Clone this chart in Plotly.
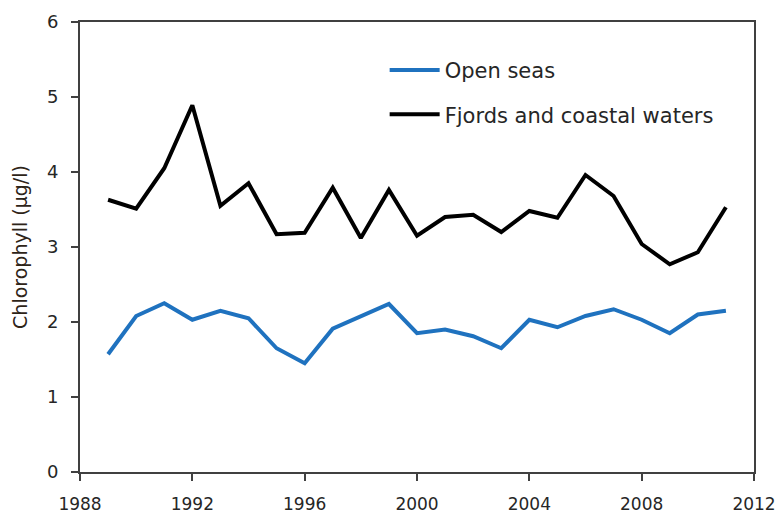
import plotly.graph_objects as go

years = list(range(1989, 2012))

open_seas = [1.57, 2.08, 2.25, 2.03, 2.15, 2.05, 1.65, 1.45, 1.91, 2.08, 2.24, 1.85,
             1.90, 1.81, 1.65, 2.03, 1.93, 2.08, 2.17, 2.03, 1.85, 2.10, 2.15]

fjords = [3.63, 3.51, 4.05, 4.89, 3.55, 3.85, 3.17, 3.19, 3.79, 3.12, 3.76, 3.15,
          3.40, 3.43, 3.20, 3.48, 3.39, 3.96, 3.68, 3.04, 2.77, 2.93, 3.53]

x_ticks = [1988, 1992, 1996, 2000, 2004, 2008, 2012]
y_ticks = [0, 1, 2, 3, 4, 5, 6]

fig = go.Figure()
fig.add_trace(go.Scatter(x=years, y=open_seas, mode="lines", name="Open seas",
                         legendgroup="a",
                         line=dict(color="#1f72bf", width=4)))
fig.add_trace(go.Scatter(x=years, y=fjords, mode="lines", name="Fjords and coastal waters",
                         legendgroup="b",
                         line=dict(color="#000000", width=4)))

axis_common = dict(showline=True, linecolor="#404040", linewidth=2, mirror=True,
                   ticks="outside", ticklen=7, tickcolor="#404040", tickwidth=2,
                   showgrid=False, zeroline=False, automargin=False,
                   ticklabelstandoff=9)

fig.update_layout(
    width=778, height=515,
    margin=dict(l=80, r=24, t=22, b=43),
    plot_bgcolor="white", paper_bgcolor="white",
    xaxis=dict(range=[1988, 2012], tickvals=x_ticks,
               tickfont=dict(family="DejaVu Sans", size=17, color="#262626"),
               **axis_common),
    yaxis=dict(range=[0, 6], tickvals=y_ticks,
               tickfont=dict(family="DejaVu Sans", size=18, color="#262626"),
               title=dict(text="Chlorophyll (µg/l)", standoff=14,
                          font=dict(family="DejaVu Sans", size=19, color="#2e2418")),
               **axis_common),
    legend=dict(x=0.452, y=0.938, xanchor="left", yanchor="top",
                tracegroupgap=14, itemwidth=50, bgcolor="rgba(0,0,0,0)",
                font=dict(family="DejaVu Sans", size=21, color="#262626")),
    showlegend=True,
)

# drop the default 8px page margin so the 778x515 figure fills the window exactly
fig.write_html("out.html", config={"displayModeBar": False},
               post_script="document.body.style.margin='0';document.body.style.overflow='hidden';")
